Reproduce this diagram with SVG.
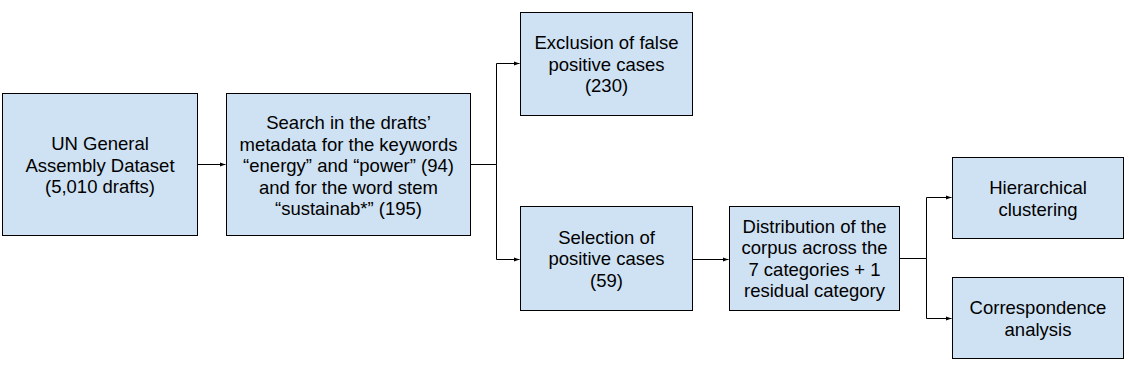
<svg xmlns="http://www.w3.org/2000/svg" width="1129" height="372" viewBox="0 0 1129 372">
<defs>
<marker id="ah" viewBox="0 0 6 6" refX="6" refY="3" markerWidth="6" markerHeight="6" markerUnits="userSpaceOnUse" orient="auto">
<path d="M0,0.8 L6,3 L0,5.2 Z" fill="#000"/>
</marker>
<style>
.box{fill:#cfe2f3;stroke:#000;stroke-width:1}
.t{font-family:"Liberation Sans",Arial,sans-serif;font-size:18.5px;fill:#000;text-anchor:middle}
.c{fill:none;stroke:#000;stroke-width:1}
</style>
</defs>
<rect width="1129" height="372" fill="#fff"/>
<g id="connectors">
<path class="c" d="M197.5,164.5 H225.5" marker-end="url(#ah)"/>
<path class="c" d="M470.5,164.5 H496.5 V63.5 H519.5" marker-end="url(#ah)"/>
<path class="c" d="M496.5,164.5 V259.5 H519.5" marker-end="url(#ah)"/>
<path class="c" d="M692.5,259.5 H728.5" marker-end="url(#ah)"/>
<path class="c" d="M899.5,258.5 H926.5 V197.5 H951.5" marker-end="url(#ah)"/>
<path class="c" d="M926.5,258.5 V318.5 H951.5" marker-end="url(#ah)"/>
</g>
<g id="n1">
<rect class="box" x="2.5" y="93.5" width="195" height="142"/>
<text class="t"><tspan x="100" y="150">UN General</tspan><tspan x="100" y="171.5">Assembly Dataset</tspan><tspan x="100" y="193">(5,010 drafts)</tspan></text>
</g>
<g id="n2">
<rect class="box" x="226.5" y="93.5" width="244" height="142"/>
<text class="t"><tspan x="348.5" y="129">Search in the drafts’</tspan><tspan x="348.5" y="150.5">metadata for the keywords</tspan><tspan x="348.5" y="172">“energy” and “power” (94)</tspan><tspan x="348.5" y="193.5">and for the word stem</tspan><tspan x="348.5" y="215">“sustainab*” (195)</tspan></text>
</g>
<g id="n3">
<rect class="box" x="520.5" y="12.5" width="172" height="103"/>
<text class="t"><tspan x="606.5" y="49">Exclusion of false</tspan><tspan x="606.5" y="70.5">positive cases</tspan><tspan x="606.5" y="92">(230)</tspan></text>
</g>
<g id="n4">
<rect class="box" x="520.5" y="206.5" width="172" height="104"/>
<text class="t"><tspan x="606.5" y="243.5">Selection of</tspan><tspan x="606.5" y="265">positive cases</tspan><tspan x="606.5" y="286.5">(59)</tspan></text>
</g>
<g id="n5">
<rect class="box" x="729.5" y="206.5" width="170" height="104"/>
<text class="t"><tspan x="814.5" y="232.5">Distribution of the</tspan><tspan x="814.5" y="254">corpus across the</tspan><tspan x="814.5" y="275.5">7 categories + 1</tspan><tspan x="814.5" y="297">residual category</tspan></text>
</g>
<g id="n6">
<rect class="box" x="952.5" y="157.5" width="171" height="81"/>
<text class="t"><tspan x="1038" y="194">Hierarchical</tspan><tspan x="1038" y="215.5">clustering</tspan></text>
</g>
<g id="n7">
<rect class="box" x="952.5" y="277.5" width="171" height="81"/>
<text class="t"><tspan x="1038" y="314">Correspondence</tspan><tspan x="1038" y="335.5">analysis</tspan></text>
</g>
</svg>
